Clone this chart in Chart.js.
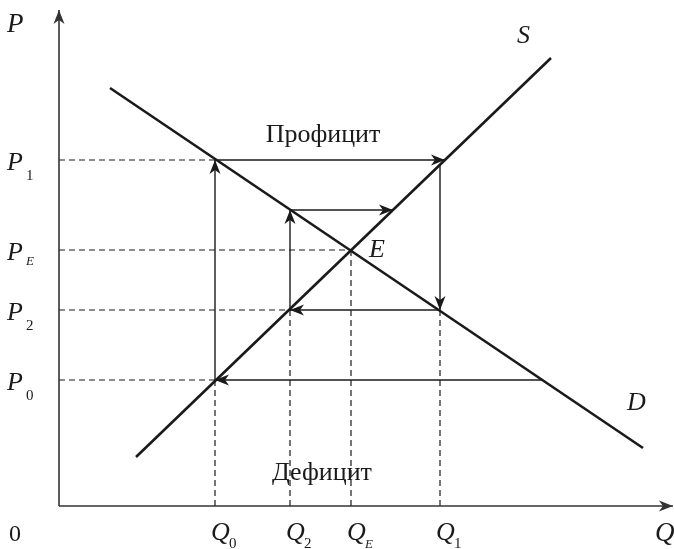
<!DOCTYPE html>
<html>
<head>
<meta charset="utf-8">
<script src="https://cdn.jsdelivr.net/npm/chart.js@4"></script>
<style>
  html, body { margin: 0; padding: 0; background: #fff; }
  canvas { display: block; }
</style>
</head>
<body>
<canvas id="chart" width="674" height="549"></canvas>
<script>
// market equilibrium: supply / demand with surplus and shortage
const qValues = [156, 231, 292, 381];      // Q0, Q2, QE, Q1
const qSubs = ['0', '2', 'E', '1'];
const pValues = [346, 256, 196, 126];      // P1, PE, P2, P0
const pSubs = ['1', 'E', '2', '0'];
const pAtQ = [126, 196, 256, 196];         // height of the dashed line above each Q
const qAtP = [156, 292, 231, 156];         // length of the dashed line right of each P

const supply = [{x: 77, y: 49}, {x: 492, y: 448}];
const demand = [{x: 51, y: 418}, {x: 584, y: 58}];

// adjustment arrows, start -> end (head at end)
const arrowFrom = [[156, 126], [156, 346], [381, 341], [381, 196], [231, 196], [231, 296], [483, 126]];
const arrowTo   = [[156, 346], [386, 346], [381, 196], [231, 196], [231, 296], [334, 296], [156, 126]];

const xMax = 614, yMax = 496;
const ink = '#1a1a1a';
const serif = '"Liberation Serif", "DejaVu Serif", serif';

const datasets = [];
function seg(pts, o) {
  datasets.push(Object.assign({
    data: pts, showLine: true, pointRadius: 0, pointHoverRadius: 0,
    borderColor: ink, borderWidth: 1.3, fill: false, clip: false, tension: 0
  }, o));
}

// axes
seg([{x: 0, y: 0}, {x: 0, y: yMax}], {borderColor: '#333', borderWidth: 1.6, arrow: true, head: [14, 5.5]});
seg([{x: 0, y: 0}, {x: xMax, y: 0}], {borderColor: '#333', borderWidth: 1.6, arrow: true, head: [14, 5.5]});

// dashed guides
qValues.forEach((q, i) => seg([{x: q, y: 0}, {x: q, y: pAtQ[i]}], {borderWidth: 1.2, borderDash: [6, 4]}));
pValues.forEach((p, i) => seg([{x: 0, y: p}, {x: qAtP[i], y: p}], {borderWidth: 1.2, borderDash: [6, 4]}));

// curves
seg(supply, {borderWidth: 2.6});
seg(demand, {borderWidth: 2.6});

// arrows
arrowFrom.forEach((a, i) => seg([{x: a[0], y: a[1]}, {x: arrowTo[i][0], y: arrowTo[i][1]}], {borderWidth: 1.4, arrow: true, head: [14, 5.5]}));

const arrowHeads = {
  id: 'arrowHeads',
  afterDatasetsDraw(chart) {
    const ctx = chart.ctx;
    chart.data.datasets.forEach((ds, i) => {
      if (!ds.arrow) return;
      const pts = chart.getDatasetMeta(i).data;
      const a = pts[pts.length - 2], b = pts[pts.length - 1];
      const ang = Math.atan2(b.y - a.y, b.x - a.x);
      const [len, w] = ds.head;
      ctx.save();
      ctx.translate(b.x, b.y);
      ctx.rotate(ang);
      ctx.fillStyle = ds.borderColor;
      ctx.beginPath();
      ctx.moveTo(0, 0);
      ctx.lineTo(-len, -w);
      ctx.lineTo(-len * 0.72, 0);
      ctx.lineTo(-len, w);
      ctx.closePath();
      ctx.fill();
      ctx.restore();
    });
  }
};

const labels = {
  id: 'labels',
  afterDraw(chart) {
    const ctx = chart.ctx, xs = chart.scales.x, ys = chart.scales.y;
    ctx.save();
    ctx.fillStyle = '#1a1a1a';
    ctx.textBaseline = 'alphabetic';
    ctx.textAlign = 'left';
    const it = s => 'italic ' + s + 'px ' + serif;

    // axis names
    ctx.font = it(27);
    ctx.fillText('P', 7, 32);
    ctx.fillText('Q', 655, 541);
    ctx.font = '24px ' + serif;
    ctx.fillText('0', 9, 541);

    // price ticks
    pValues.forEach((p, i) => {
      const y = ys.getPixelForValue(p);
      ctx.font = it(26);
      ctx.fillText('P', 7, y + 10);
      if (pSubs[i] === 'E') { ctx.font = it(13); ctx.fillText('E', 26, y + 15); }
      else { ctx.font = '15px ' + serif; ctx.fillText(pSubs[i], 26, y + 20); }
    });

    // quantity ticks
    qValues.forEach((q, i) => {
      const x = xs.getPixelForValue(q);
      ctx.font = it(26);
      ctx.fillText('Q', x - 4, 540);
      if (qSubs[i] === 'E') { ctx.font = it(13); ctx.fillText('E', x + 14, 548); }
      else { ctx.font = '15px ' + serif; ctx.fillText(qSubs[i], x + 14, 548); }
    });

    // curve names and point
    ctx.font = it(26);
    ctx.fillText('S', 517, 43);
    ctx.fillText('D', 627, 410);
    ctx.fillText('E', 369, 257);

    // surplus / shortage
    ctx.font = '26px ' + serif;
    ctx.textAlign = 'center';
    ctx.fillText('Профицит', 323, 142);
    ctx.fillText('Дефицит', 322, 480);
    ctx.restore();
  }
};

new Chart(document.getElementById('chart'), {
  type: 'scatter',
  data: { datasets },
  options: {
    responsive: false,
    animation: false,
    devicePixelRatio: 1,
    layout: { padding: { left: 59, right: 1, top: 10, bottom: 43 } },
    plugins: { legend: { display: false }, tooltip: { enabled: false } },
    events: [],
    scales: {
      x: { type: 'linear', min: 0, max: xMax, display: false },
      y: { type: 'linear', min: 0, max: yMax, display: false }
    }
  },
  plugins: [arrowHeads, labels]
});
</script>
</body>
</html>
